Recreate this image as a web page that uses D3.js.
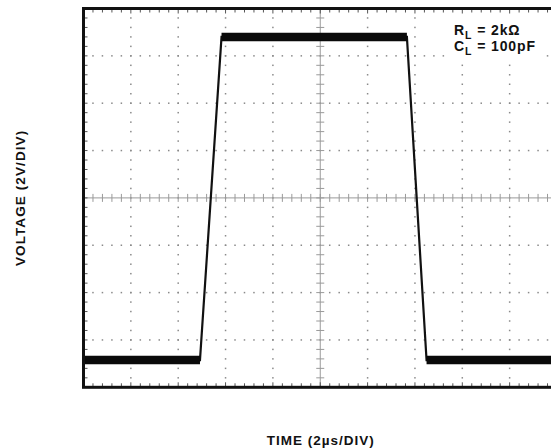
<!DOCTYPE html>
<html>
<head>
<meta charset="utf-8">
<script src="https://cdn.jsdelivr.net/npm/d3@7"></script>
<style>
  html, body { margin: 0; padding: 0; background: #fff; }
  svg { display: block; }
  text { font-family: "Liberation Sans", Arial, sans-serif; font-weight: bold; fill: #111; }
</style>
</head>
<body>
<svg id="chart" width="551" height="448"></svg>
<script>
// Scope trace: output step response, 2 µs/div horizontally, 2 V/div vertically
const timeUs   = [0, 4.92, 5.83, 13.66, 14.49, 20];
const voltageV = [-6.85, -6.85, 6.8, 6.8, -6.85, -6.85];
// flat (noisy) stretches of the trace, as index pairs into the arrays above
const flatRuns = [[0, 1], [2, 3], [4, 5]];

const timeDivs    = d3.range(0, 20.001, 2);     // major divisions
const voltDivs    = d3.range(-8, 8.001, 2);
const timeMinor   = d3.range(0, 20.001, 0.4);   // 5 minor steps per division
const voltMinor   = d3.range(-8, 8.001, 0.4);

const xLabel = "TIME (2µs/DIV)";
const yLabel = "VOLTAGE (2V/DIV)";
const noteLines = [["R", "L", " = 2kΩ"], ["C", "L", " = 100pF"]];

const svg = d3.select("#chart");
const plot = { left: 83.5, top: 8.5, right: 557, bottom: 387.3 };

const x = d3.scaleLinear().domain([0, 20]).range([plot.left, plot.right]);
const y = d3.scaleLinear().domain([-8, 8]).range([plot.bottom, plot.top]);

// dotted graticule: dots at each minor step along every major line
const grid = svg.append("g").attr("fill", "#8a8a8a");
timeDivs.filter(t => t > 0 && t < 20 && t !== 10).forEach(t => {
  grid.selectAll(null).data(voltMinor.filter(v => v > -8 && v < 8)).enter()
    .append("rect")
    .attr("x", x(t) - 0.75).attr("y", d => y(d) - 0.75)
    .attr("width", 1.5).attr("height", 1.5);
});
voltDivs.filter(v => v > -8 && v < 8 && v !== 0).forEach(v => {
  grid.selectAll(null).data(timeMinor.filter(t => t > 0 && t < 20)).enter()
    .append("rect")
    .attr("x", d => x(d) - 0.75).attr("y", y(v) - 0.75)
    .attr("width", 1.5).attr("height", 1.5);
});

// centre crosshair with minor ticks
const cross = svg.append("g").attr("stroke", "#9a9a9a").attr("stroke-width", 1);
cross.append("line").attr("x1", plot.left).attr("x2", plot.right)
  .attr("y1", y(0)).attr("y2", y(0));
cross.append("line").attr("x1", x(10)).attr("x2", x(10))
  .attr("y1", plot.top).attr("y2", plot.bottom);
cross.selectAll(null).data(timeMinor).enter().append("line")
  .attr("x1", d => x(d)).attr("x2", d => x(d))
  .attr("y1", y(0) - 4).attr("y2", y(0) + 4);
cross.selectAll(null).data(voltMinor).enter().append("line")
  .attr("x1", x(10) - 4).attr("x2", x(10) + 4)
  .attr("y1", d => y(d)).attr("y2", d => y(d));

// minor ticks along the frame, pointing inward
const frameTicks = svg.append("g").attr("stroke", "#555").attr("stroke-width", 1);
frameTicks.selectAll(null).data(timeMinor).enter().append("line")
  .attr("x1", d => x(d)).attr("x2", d => x(d))
  .attr("y1", plot.top).attr("y2", d => plot.top + (d % 2 === 0 ? 5 : 4));
frameTicks.selectAll(null).data(timeMinor).enter().append("line")
  .attr("x1", d => x(d)).attr("x2", d => x(d))
  .attr("y1", plot.bottom).attr("y2", d => plot.bottom - (d % 2 === 0 ? 5 : 4));
frameTicks.selectAll(null).data(voltMinor).enter().append("line")
  .attr("x1", plot.left).attr("x2", plot.left + 4)
  .attr("y1", d => y(d)).attr("y2", d => y(d));

// annotation box (white backing hides the graticule behind it)
svg.append("rect").attr("x", 447).attr("y", 15).attr("width", 98).attr("height", 47)
  .attr("fill", "#fff");

// trace
svg.append("clipPath").attr("id", "plotClip").append("rect")
  .attr("x", plot.left).attr("y", plot.top)
  .attr("width", plot.right - plot.left).attr("height", plot.bottom - plot.top);
const trace = svg.append("g").attr("clip-path", "url(#plotClip)");
const pts = timeUs.map((t, i) => [t, voltageV[i]]);
const line = d3.line().x(d => x(d[0])).y(d => y(d[1]));
trace.append("path").attr("d", line(pts))
  .attr("fill", "none").attr("stroke", "#111").attr("stroke-width", 2.2)
  .attr("stroke-linejoin", "miter");
flatRuns.forEach(([a, b]) => {
  trace.append("path").attr("d", line(pts.slice(a, b + 1)))
    .attr("fill", "none").attr("stroke", "#0a0a0a").attr("stroke-width", 8.5);
});

// frame
svg.append("rect")
  .attr("x", plot.left).attr("y", plot.top)
  .attr("width", plot.right - plot.left).attr("height", plot.bottom - plot.top)
  .attr("fill", "none").attr("stroke", "#111").attr("stroke-width", 3);

// annotation text
noteLines.forEach((parts, i) => {
  const t = svg.append("text").attr("x", 454).attr("y", 34.5 + i * 16)
    .attr("font-size", 14).attr("letter-spacing", 0.9);
  t.append("tspan").text(parts[0]);
  t.append("tspan").attr("dy", 4).attr("font-size", 10.5).text(parts[1]);
  t.append("tspan").attr("dy", -4).text(parts[2]);
});

// axis titles
svg.append("text").attr("x", (plot.left + x(20)) / 2 + 0.5).attr("y", 445)
  .attr("text-anchor", "middle").attr("font-size", 13.5).attr("letter-spacing", 1)
  .text(xLabel);
svg.append("text")
  .attr("transform", `translate(25,${y(0)}) rotate(-90)`)
  .attr("text-anchor", "middle").attr("font-size", 13.5).attr("letter-spacing", 1.1)
  .text(yLabel);
</script>
</body>
</html>
